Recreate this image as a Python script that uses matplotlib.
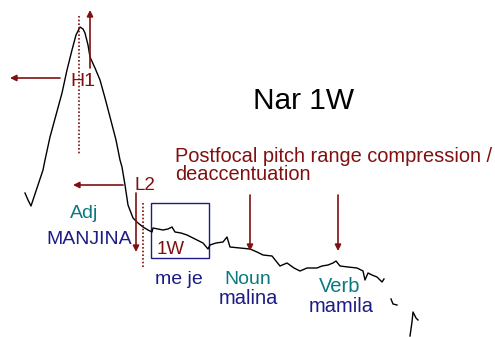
import matplotlib
matplotlib.use("Agg")
import matplotlib.pyplot as plt

plt.rcParams["font.family"] = ["Liberation Sans", "DejaVu Sans"]

# F0 contour traced in display units (x = time, y = pitch, downwards = lower)
CONTOUR_X = [25, 28, 31, 33, 38, 43, 45, 50, 56, 62, 67, 72, 76, 80, 83, 85, 88, 90,
             95, 100, 105, 110, 116, 120, 122, 125, 128, 133, 138, 143, 148, 152, 153,
             158, 163, 168, 172, 175, 181, 187, 195, 203, 208, 210, 216, 223, 227, 230,
             240, 250, 257, 263, 272, 280, 287, 294, 300, 307, 317, 322, 328, 333, 336,
             340, 348, 357, 363, 365, 368, 372, 377, 382, 384]
CONTOUR_Y = [193, 200, 206, 200, 185, 170, 160, 137, 115, 93, 70, 50, 35, 27, 29, 33, 45, 57,
             68, 80, 98, 117, 140, 160, 167, 185, 205, 218, 223, 227, 230, 232, 228,
             229, 230, 229, 227, 232, 233, 235, 239, 243, 249, 245, 243, 242, 237, 247,
             248, 249, 252, 255, 256, 266, 263, 268, 271, 268, 268, 266, 265, 263, 261,
             266, 267, 268, 271, 280, 273, 275, 277, 282, 279]
TAIL_A_X = [391, 393, 397]
TAIL_A_Y = [299, 304, 305]
TAIL_B_X = [410, 412, 413, 416, 418]
TAIL_B_Y = [336, 322, 312, 318, 320]

DARKRED = "#801010"
TEAL = "#0a7a80"
NAVY = "#1c1c84"

fig = plt.figure(figsize=(4.95, 3.37), dpi=100)
ax = fig.add_axes([0, 0, 1, 1])
ax.set_xlim(0, 495)
ax.set_ylim(337, 0)
ax.axis("off")

for xs, ys in [(CONTOUR_X, CONTOUR_Y), (TAIL_A_X, TAIL_A_Y), (TAIL_B_X, TAIL_B_Y)]:
    ax.plot(xs, ys, color="black", lw=1.0)

# focus markers
ax.plot([79, 79], [16, 155], color=DARKRED, lw=1.2, ls=(0, (1.0, 1.2)))
ax.plot([143, 143], [203, 268], color=DARKRED, lw=1.2, ls=(0, (1.0, 1.2)))

arrow = dict(arrowstyle="-|>", color=DARKRED, lw=1.2, mutation_scale=9,
             shrinkA=0, shrinkB=0)
ax.annotate("", xy=(90, 10), xytext=(90, 68), arrowprops=arrow)
ax.annotate("", xy=(10, 78), xytext=(60, 78), arrowprops=arrow)
ax.annotate("", xy=(73, 185), xytext=(123, 185), arrowprops=arrow)
ax.annotate("", xy=(136, 252), xytext=(136, 193), arrowprops=arrow)
ax.annotate("", xy=(250, 251), xytext=(250, 195), arrowprops=arrow)
ax.annotate("", xy=(338, 251), xytext=(338, 195), arrowprops=arrow)

ax.add_patch(plt.Rectangle((151, 203), 58, 55, fill=False, ec=NAVY, lw=1.0))

ax.text(83, 81, "H1", color=DARKRED, fontsize=14, ha="center", va="center")
ax.text(145, 185, "L2", color=DARKRED, fontsize=13.5, ha="center", va="center")
ax.text(171, 249, "1W", color=DARKRED, fontsize=13.5, ha="center", va="center")
ax.text(304, 101, "Nar 1W", color="black", fontsize=21.5, ha="center", va="center")
ax.text(175, 162, "Postfocal pitch range compression /",
        color=DARKRED, fontsize=14.4, ha="left", va="baseline")
ax.text(175, 180, "deaccentuation",
        color=DARKRED, fontsize=14.4, ha="left", va="baseline")

ax.text(84, 213, "Adj", color=TEAL, fontsize=14, ha="center", va="center")
ax.text(89, 240, "MANJINA", color=NAVY, fontsize=14, ha="center", va="center")
ax.text(179, 280, "me je", color=NAVY, fontsize=14, ha="center", va="center")
ax.text(248, 279, "Noun", color=TEAL, fontsize=14, ha="center", va="center")
ax.text(248, 299, "malina", color=NAVY, fontsize=14.5, ha="center", va="center")
ax.text(340, 287, "Verb", color=TEAL, fontsize=14.5, ha="center", va="center")
ax.text(341, 306, "mamila", color=NAVY, fontsize=14.5, ha="center", va="center")

fig.savefig("out.png", dpi=100)
